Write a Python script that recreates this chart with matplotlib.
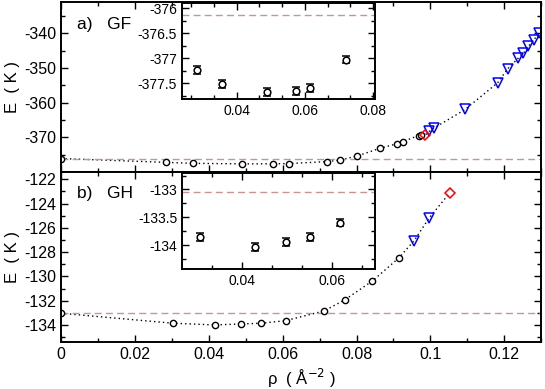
import matplotlib
matplotlib.use("Agg")
import matplotlib.pyplot as plt
from matplotlib.ticker import AutoMinorLocator

plt.rcParams['font.family'] = ['Liberation Sans', 'DejaVu Sans']
plt.rcParams['axes.unicode_minus'] = False

# ---- data: panel a) GF ----
gf_rho_c = [0, 0.0285, 0.0356, 0.049, 0.0574, 0.0616, 0.0719, 0.0755, 0.0802, 0.0863, 0.0909, 0.0926, 0.0968, 0.0974]
gf_E_c = [-376.14, -377.24, -377.51, -377.67, -377.66, -377.59, -377.03, -376.57, -375.4, -373.2, -371.9, -371.25, -369.5, -369.3]
gf_rho_d = [0.0986]
gf_E_d = [-369.3]
gf_rho_t = [0.0997, 0.1009, 0.1094, 0.1182, 0.1209, 0.1238, 0.1252, 0.1265, 0.128, 0.1295]
gf_E_t = [-368.3, -367.4, -362.0, -354.3, -350.3, -347.2, -345.8, -343.8, -341.9, -340.0]
gf_ref = -376.14
gf_in_rho = [0.0285, 0.0356, 0.049, 0.0574, 0.0616, 0.0719]
gf_in_E = [-377.24, -377.51, -377.67, -377.66, -377.59, -377.03]
gf_in_err = [0.08, 0.08, 0.08, 0.08, 0.08, 0.075]

# ---- data: panel b) GH ----
gh_rho_c = [0, 0.0303, 0.0416, 0.0486, 0.0542, 0.0608, 0.0712, 0.0768, 0.0843, 0.0914]
gh_E_c = [-133.04, -133.86, -134.0, -133.92, -133.86, -133.65, -132.85, -131.94, -130.38, -128.5]
gh_rho_t = [0.0956, 0.0996]
gh_E_t = [-127.06, -125.22]
gh_rho_d = [0.1053]
gh_E_d = [-123.1]
gh_ref = -133.05
gh_in_rho = [0.0307, 0.043, 0.0499, 0.0551, 0.0618]
gh_in_E = [-133.85, -134.03, -133.94, -133.86, -133.6]
gh_in_err = [0.07, 0.07, 0.07, 0.07, 0.065]

xticks = [0, 0.02, 0.04, 0.06, 0.08, 0.10, 0.12]
xticklabels = ['0', '0.02', '0.04', '0.06', '0.08', '0.1', '0.12']

refc = '#c89494'
fig = plt.figure(figsize=(5.45, 3.89), dpi=100)
L, R = 0.112, 0.993
axA = fig.add_axes([L, 0.558, R - L, 0.437])
axB = fig.add_axes([L, 0.121, R - L, 0.437])

def style(ax, fs=11.5, lw=1.4):
    for s in ax.spines.values():
        s.set_linewidth(lw)
    ax.tick_params(which='both', direction='in', top=True, right=True, labelsize=fs)
    ax.tick_params(which='major', length=5, width=1)
    ax.tick_params(which='minor', length=3, width=1)

def main_panel(ax, rc, Ec, rt, Et, rd, Ed, ref):
    allr = list(rc) + list(rd) + list(rt)
    allE = list(Ec) + list(Ed) + list(Et)
    pairs = sorted(zip(allr, allE))
    ax.plot([p[0] for p in pairs], [p[1] for p in pairs], ls=(0, (1, 2.2)), color='black', lw=1.0)
    ax.axhline(ref, color=refc, ls=(0, (5, 3)), lw=1.0)
    ax.plot(rc, Ec, 'o', mfc='white', mec='black', ms=4.5, mew=1.0)
    ax.plot(rt, Et, 'v', mfc='none', mec='blue', ms=7.5, mew=1.1)
    ax.plot(rd, Ed, 'D', mfc='none', mec='red', ms=5.5, mew=1.1)
    ax.set_xlim(0, 0.13)
    ax.set_xticks(xticks)
    ax.xaxis.set_minor_locator(AutoMinorLocator(2))
    ax.yaxis.set_minor_locator(AutoMinorLocator(2))
    style(ax)

main_panel(axA, gf_rho_c, gf_E_c, gf_rho_t, gf_E_t, gf_rho_d, gf_E_d, gf_ref)
axA.set_ylim(-380, -331)
axA.set_yticks([-370, -360, -350, -340])
axA.set_xticklabels([])
axA.set_ylabel('E  ( K )', fontsize=12)
axA.text(0.033, 0.865, 'a)   GF', fontsize=12.5, va='center', transform=axA.transAxes)

main_panel(axB, gh_rho_c, gh_E_c, gh_rho_t, gh_E_t, gh_rho_d, gh_E_d, gh_ref)
axB.set_ylim(-135.4, -121.4)
axB.set_yticks([-134, -132, -130, -128, -126, -124, -122])
axB.set_xticklabels(xticklabels)
axB.set_ylabel('E  ( K )', fontsize=12)
axB.set_xlabel('ρ  ( Å$^{-2}$ )', fontsize=12)
axB.text(0.033, 0.872, 'b)   GH', fontsize=12.5, va='center', transform=axB.transAxes)

for ax in (axA, axB):
    ax.yaxis.set_label_coords(-0.085, 0.5)

# insets
def inset(rect, r, E, err, ref):
    ax = fig.add_axes(rect)
    ax.axhline(ref, color=refc, ls=(0, (5, 3)), lw=1.0)
    ax.errorbar(r, E, yerr=err, fmt='none', ecolor='black', capsize=3, capthick=1.1, elinewidth=1, zorder=2)
    ax.plot(r, E, 'o', mfc='white', mec='black', ms=4.8, mew=1.1, zorder=3)
    ax.xaxis.set_minor_locator(AutoMinorLocator(3))
    ax.yaxis.set_minor_locator(AutoMinorLocator(2))
    style(ax, fs=10)
    return ax

insA = inset([0.334, 0.745, 0.354, 0.247], gf_in_rho, gf_in_E, gf_in_err, gf_ref)
insA.set_xlim(0.024, 0.0805)
insA.set_ylim(-377.82, -375.9)
insA.set_xticks([0.04, 0.06, 0.08])
insA.set_yticks([-377.5, -377, -376.5, -376])
insA.set_yticklabels(['-377.5', '-377', '-376.5', '-376'])
insA.xaxis.set_minor_locator(AutoMinorLocator(3))

insB = inset([0.334, 0.3085, 0.354, 0.246], gh_in_rho, gh_in_E, gh_in_err, gh_ref)
insB.set_xlim(0.0267, 0.0696)
insB.set_ylim(-134.43, -132.71)
insB.set_xticks([0.04, 0.06])
insB.set_yticks([-134, -133.5, -133])
insB.set_yticklabels(['-134', '-133.5', '-133'])
insB.xaxis.set_minor_locator(AutoMinorLocator(3))

fig.savefig('out.png', dpi=100)
